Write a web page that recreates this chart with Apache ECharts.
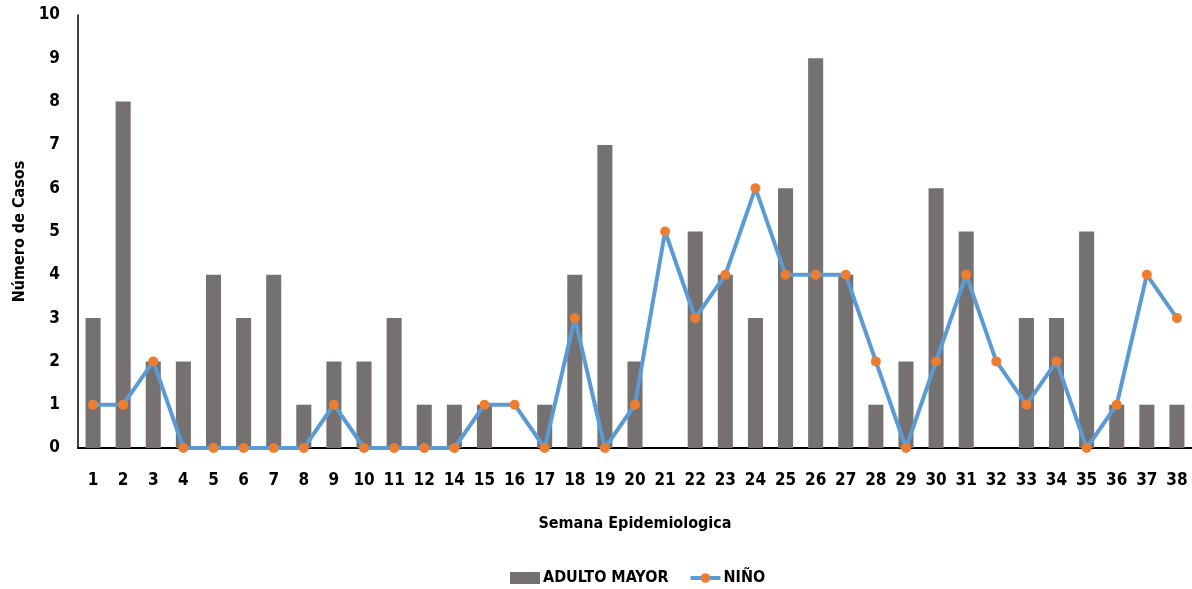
<!DOCTYPE html>
<html><head><meta charset="utf-8">
<script src="https://cdn.jsdelivr.net/npm/echarts@6/dist/echarts.min.js"></script>
<style>html,body{margin:0;padding:0;background:#fff}#c{width:1192px;height:589px}</style>
</head><body><div id="c"></div>
<script>
const weeks = ['1','2','3','4','5','6','7','8','9','10','11','12','14','15','16','17','18','19','20','21','22','23','24','25','26','27','28','29','30','31','32','33','34','35','36','37','38'];
const adultoMayor = [3,8,2,2,4,3,4,1,2,2,3,1,1,1,0,1,4,7,2,0,5,4,3,6,9,4,1,2,6,5,0,3,3,5,1,1,1];
const nino = [1,1,2,0,0,0,0,0,1,0,0,0,0,1,1,0,3,0,1,5,3,4,6,4,4,4,2,0,2,4,2,1,2,0,1,4,3];
const yTicks = [0,1,2,3,4,5,6,7,8,9,10];
const FONT = '"Liberation Sans Narrow", "DejaVu Sans Condensed", "Liberation Sans", sans-serif';
const chart = echarts.init(document.getElementById('c'));
chart.setOption({
  animation: false,
  textStyle: { fontFamily: FONT },
  grid: { left: 78, right: 0, top: 15, bottom: 141 },
  legend: {
    bottom: -2, left: 505, itemGap: 20, itemWidth: 30, itemHeight: 12,
    textStyle: { fontFamily: FONT, fontWeight: 'bold', fontSize: 16, color: '#000', padding: [0, 0, 0, -2] },
    data: [
      { name: 'ADULTO MAYOR', icon: 'rect' },
      { name: 'NIÑO', lineStyle: { width: 4, color: '#5B9BD5' } }
    ]
  },
  xAxis: {
    type: 'category', data: weeks,
    name: 'Semana Epidemiologica', nameLocation: 'middle', nameGap: 68,
    nameTextStyle: { fontFamily: FONT, fontWeight: 'bold', fontSize: 16, color: '#000' },
    axisLine: { lineStyle: { color: '#000', width: 2 } },
    axisTick: { show: false },
    axisLabel: { interval: 0, margin: 24, fontFamily: FONT, fontWeight: 'bold', fontSize: 17, color: '#000' }
  },
  yAxis: {
    type: 'value', min: yTicks[0], max: yTicks[yTicks.length - 1], interval: 1,
    name: 'Número de Casos', nameLocation: 'middle', nameGap: 46,
    nameTextStyle: { fontFamily: FONT, fontWeight: 'bold', fontSize: 16, color: '#000' },
    axisLine: { show: true, lineStyle: { color: '#000', width: 1.5 } },
    axisTick: { show: false },
    splitLine: { show: false },
    axisLabel: { margin: 18, fontFamily: FONT, fontWeight: 'bold', fontSize: 17, color: '#000' }
  },
  series: [
    { name: 'ADULTO MAYOR', type: 'bar', data: adultoMayor, barWidth: '50%',
      itemStyle: { color: '#767171' } },
    { name: 'NIÑO', type: 'line', data: nino, symbol: 'circle', symbolSize: 10,
      lineStyle: { color: '#5B9BD5', width: 4 },
      itemStyle: { color: '#ED7D31', borderWidth: 0 }, z: 5 }
  ]
});
</script></body></html>
